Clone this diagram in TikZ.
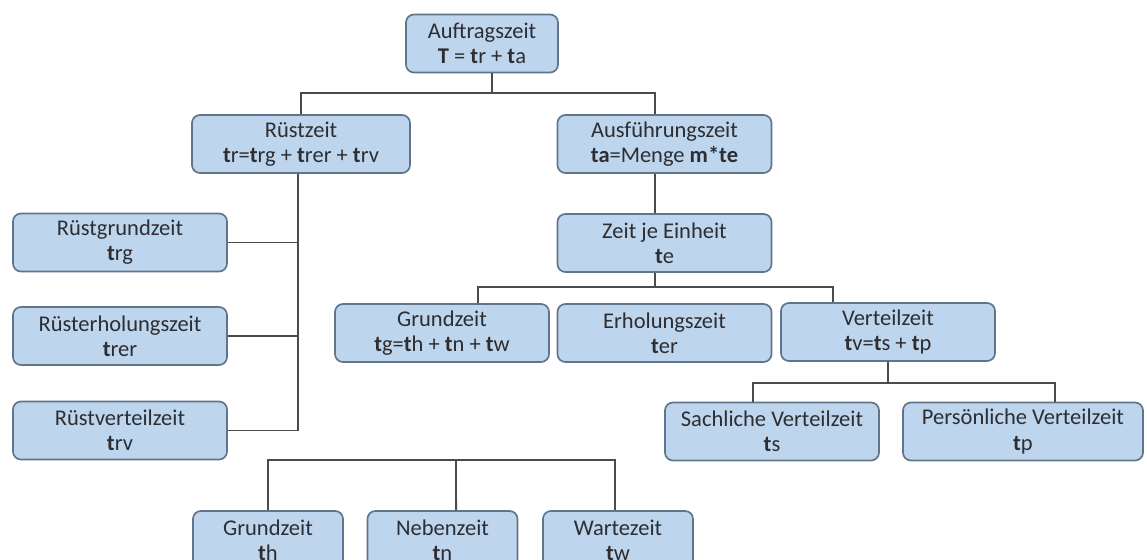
\documentclass[tikz,border=0pt]{standalone}
\usepackage{fontspec}
\setmainfont{Carlito}
\definecolor{zeitfill}{RGB}{190,214,237}
\definecolor{zeitline}{RGB}{96,116,140}
\definecolor{zeittext}{RGB}{45,45,50}
\definecolor{zeitlink}{RGB}{75,75,75}
\tikzset{
  zeitbox/.style={draw=zeitline, fill=zeitfill, text=zeittext, line width=1.2pt,
    rounded corners=0.2cm, align=center, inner sep=0pt,
    minimum width=5.35cm, minimum height=1.45cm,
    font=\fontsize{16}{17.8}\selectfont},
  link/.style={draw=zeitlink, line width=1.3pt}
}
\newcommand{\tb}{\textbf{t}}

\begin{document}
\begin{tikzpicture}[x=0.025cm, y=-0.025cm]
    \fill[white] (0,0) rectangle (1147,560);
    \useasboundingbox (0,0) rectangle (1147,560);
    \clip (0,0) rectangle (1147,560);

    % top
    \node[zeitbox, minimum width=3.8cm] (auft) at (482,43.5) {Auftragszeit\\ \textbf{T} = \tb r + \tb a};
    \node[zeitbox, minimum width=5.45cm] (ruest) at (301,144) {Rüstzeit\\ \tb r=\tb rg + \tb rer + \tb rv};
    \node[zeitbox] (ausf) at (664.5,144) {Ausführungszeit\\ \textbf{ta}=Menge \textbf{m*te}};

    % left column
    \node[zeitbox] (rgrund) at (120,242.5) {Rüstgrundzeit\\ \tb rg};
    \node[zeitbox] (rerhol) at (120,336) {Rüsterholungszeit\\ \tb rer};
    \node[zeitbox] (rvert) at (120,430.5) {Rüstverteilzeit\\ \tb rv};

    % unit time
    \node[zeitbox] (zeit) at (664.5,243) {Zeit je Einheit\\ \tb e};
    \node[zeitbox] (grund) at (442,333) {Grundzeit\\ \tb g=\tb h + \tb n + \tb w};
    \node[zeitbox] (erhol) at (664.5,333) {Erholungszeit\\ \tb er};
    \node[zeitbox] (verteil) at (888,332) {Verteilzeit\\ \tb v=\tb s + \tb p};
    \node[zeitbox] (sach) at (772,431.5) {Sachliche Verteilzeit\\ \tb s};
    \node[zeitbox, minimum width=6cm] (pers) at (1023,431.5) {Persönliche Verteilzeit\\ \tb p};

    % bottom row
    \node[zeitbox, minimum width=3.75cm] (th) at (268,540) {Grundzeit\\ \tb h};
    \node[zeitbox, minimum width=3.75cm] (tn) at (442.5,540) {Nebenzeit\\ \tb n};
    \node[zeitbox, minimum width=3.75cm] (tw) at (618,540) {Wartezeit\\ \tb w};
    \coordinate (tbar) at (456,460);

    % connectors
    \draw[link] ([xshift=0.25cm]auft.south) -- ++(0,20) coordinate (abar);
    \draw[link] (ruest.north) |- (abar) -| ([xshift=-0.23cm]ausf.north);
    \draw[link] ([xshift=-0.08cm]ruest.south) -- ([xshift=-0.08cm]ruest.south |- rvert.east);
    \foreach \n in {rgrund,rerhol,rvert}
      \draw[link] (\n.east) -- (\n.east -| 298,0);
    \draw[link] ([xshift=-0.23cm]ausf.south) -- ([xshift=-0.23cm]zeit.north);
    \draw[link] ([xshift=-0.23cm]zeit.south) -- ([xshift=-0.23cm]zeit.south |- 0,287);
    \draw[link] ([xshift=0.9cm]grund.north) |- ([xshift=-1.375cm]verteil.north |- 0,287) -- ([xshift=-1.375cm]verteil.north);
    \draw[link] (verteil.south) -- ++(0,21) coordinate (vbar);
    \draw[link] ([xshift=-0.475cm]sach.north) |- (vbar) -| ([xshift=0.8cm]pers.north);
    \draw[link] (th.north) |- (tbar) -| ([xshift=-0.08cm]tw.north);
    \draw[link] (tbar) -- ([xshift=0.34cm]tn.north);
\end{tikzpicture}
\end{document}
